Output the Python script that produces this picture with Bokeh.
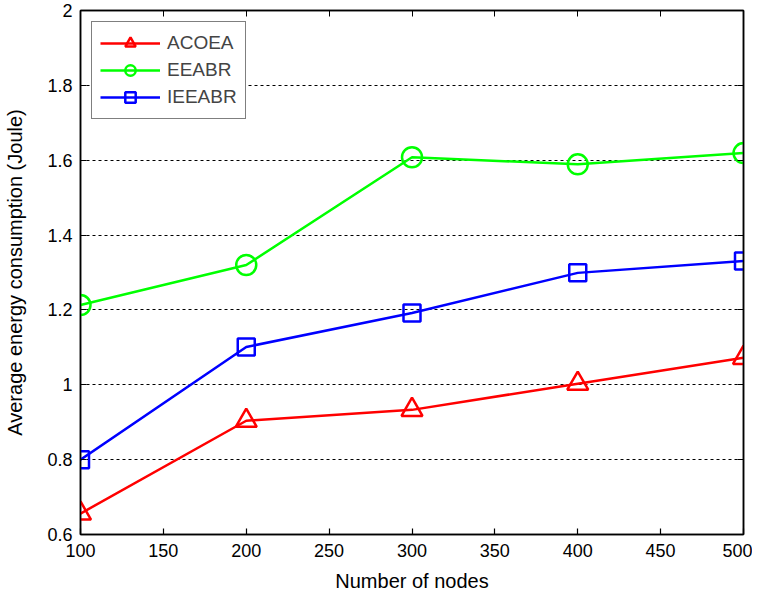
from bokeh.plotting import figure
from bokeh.models import FixedTicker, LinearAxis, Range1d
from bokeh.embed import file_html
from bokeh.resources import INLINE

nodes = [100, 200, 300, 400, 500]
acoea = [0.656, 0.904, 0.933, 1.003, 1.072]
eeabr = [1.213, 1.320, 1.608, 1.589, 1.619]
ieeabr = [0.800, 1.101, 1.192, 1.299, 1.331]
x_ticks = [100, 150, 200, 250, 300, 350, 400, 450, 500]
y_ticks = [0.6, 0.8, 1.0, 1.2, 1.4, 1.6, 1.8, 2.0]
y_labels = {0.6: "0.6", 0.8: "0.8", 1.0: "1", 1.2: "1.2", 1.4: "1.4", 1.6: "1.6", 1.8: "1.8", 2.0: "2"}

FONT = "Liberation Sans"

p = figure(width=752, height=594, output_backend="svg", toolbar_location=None,
           x_range=Range1d(100, 500), y_range=Range1d(0.6, 2.0),
           min_border_left=80, min_border_right=9, min_border_top=10, min_border_bottom=59)
p.outline_line_color = "black"
p.outline_line_width = 1.5
p.background_fill_color = "white"
p.border_fill_color = "white"

p.xgrid.visible = False
p.ygrid.ticker = FixedTicker(ticks=y_ticks)
p.ygrid.grid_line_color = "black"
p.ygrid.grid_line_dash = "3 3"
p.ygrid.grid_line_width = 1

for ax in p.xaxis:
    ax.ticker = FixedTicker(ticks=x_ticks)
    ax.axis_label = "Number of nodes"
    ax.major_label_standoff = 9
    ax.axis_label_standoff = 10
for ax in p.yaxis:
    ax.ticker = FixedTicker(ticks=y_ticks)
    ax.major_label_overrides = y_labels
    ax.axis_label = "Average energy consumption (Joule)"
    ax.major_label_standoff = 8
    ax.axis_label_standoff = 18

for ax in p.xaxis + p.yaxis:
    ax.major_tick_in = 6
    ax.major_tick_out = 0
    ax.minor_tick_in = 0
    ax.minor_tick_out = 0
    ax.axis_line_color = "black"
    ax.axis_line_width = 1.5
    ax.major_tick_line_width = 1.2
    ax.major_label_text_font = FONT
    ax.major_label_text_font_size = "18px"
    ax.major_label_text_color = "black"
    ax.axis_label_text_font = FONT
    ax.axis_label_text_font_size = "20px"
    ax.axis_label_text_font_style = "normal"
    ax.axis_label_text_color = "black"

top = LinearAxis(ticker=FixedTicker(ticks=x_ticks),
                 major_label_overrides={t: "" for t in x_ticks},
                 major_tick_in=6, major_tick_out=0, minor_tick_in=0, minor_tick_out=0,
                 axis_line_width=1.5, major_label_standoff=0)
right = LinearAxis(ticker=FixedTicker(ticks=y_ticks),
                   major_label_overrides={t: "" for t in y_ticks},
                   major_tick_in=6, major_tick_out=0, minor_tick_in=0, minor_tick_out=0,
                   axis_line_width=1.5, major_label_standoff=0)
p.add_layout(top, "above")
p.add_layout(right, "right")

series = [
    (acoea, "#ff0000", "triangle", "ACOEA", 21),
    (eeabr, "#00ff00", "circle", "EEABR", 20),
    (ieeabr, "#0000ff", "square", "IEEABR", 17),
]
for vals, col, mk, name, sz in series:
    p.line(nodes, vals, line_color=col, line_width=2.5, legend_label=name)
    p.scatter(nodes, vals, marker=mk, size=sz, line_color=col, line_width=2.5,
              fill_alpha=0, legend_label=name)

p.legend.location = "top_left"
p.legend.margin = 11
p.legend.padding = 8
p.legend.spacing = 1
p.legend.border_line_color = "black"
p.legend.border_line_width = 1.5
p.legend.label_text_font = FONT
p.legend.label_text_font_size = "19px"
p.legend.label_standoff = 7
p.legend.glyph_width = 60
p.legend.glyph_height = 26
p.legend.label_height = 26
p.legend.background_fill_alpha = 1

open("out.html", "w").write(file_html(p, INLINE))
